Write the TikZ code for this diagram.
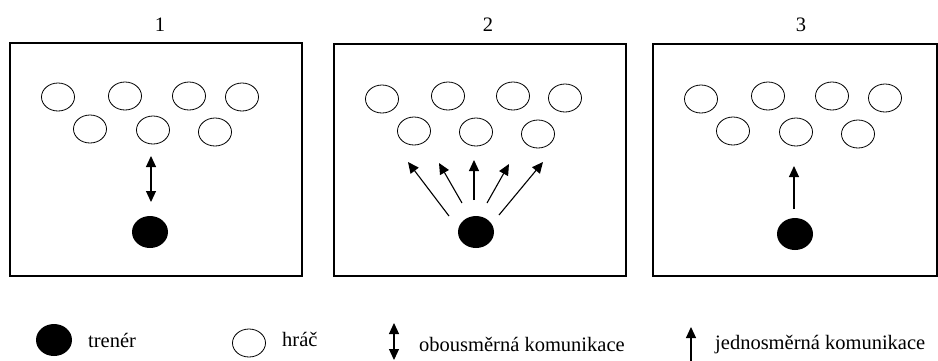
\documentclass[tikz,border=0pt]{standalone}
\usepackage{fontspec}
\setmainfont{Liberation Serif}
\usetikzlibrary{shapes.geometric,arrows.meta}
\begin{document}
\begin{tikzpicture}[x=1pt,y=-1pt,
  player/.style={draw,line width=0.8pt,ellipse,minimum width=33pt,minimum height=28pt,inner sep=0pt},
  coach/.style={fill=black,ellipse,minimum width=36pt,minimum height=32pt,inner sep=0pt},
  tip/.tip={Triangle[length=11pt,width=10pt]},
  comm/.style={line width=1.1pt,-tip},
  both/.style={line width=1.1pt,tip-tip},
  numlbl/.style={font=\fontsize{20.5}{22}\selectfont,anchor=base,inner sep=0pt},
  legtxt/.style={font=\fontsize{20.5}{22}\selectfont,anchor=base west,inner sep=0pt}]
\useasboundingbox (0,0) rectangle (938,360);

% three fields
\draw[line width=1.2pt] (10,43) rectangle (302,276);
\draw[line width=1.2pt] (334,44) rectangle (626,276);
\draw[line width=1.2pt] (653,44) rectangle (937,276);
\node[numlbl] (n1) at (160,31) {1};
\node[numlbl] (n2) at (488,31) {2};
\node[numlbl] (n3) at (801,31) {3};

% field 1: two-way communication
\foreach \x/\y [count=\i] in {58/97,125/96,189/96,242/97,90/129,153/130,215/132}
  \node[player] (a\i) at (\x,\y) {};
\node[coach] (ca) at (150,232) {};
\coordinate (ta) at (151,156);
\coordinate (sa) at (151,202);
\draw[both] (sa) -- (ta);

% field 2: one-way communication to many
\foreach \x/\y [count=\i] in {382/99,448/96,513/96,565/98,414/131,476/132,538/134}
  \node[player] (b\i) at (\x,\y) {};
\node[coach] (cb) at (476,232) {};
\foreach \sx/\sy/\tx/\ty [count=\i] in {449/216/408/162,462/203/439/163,474/200/474/160,487/203/509/164,499/215/543/162}{
  \coordinate (bs\i) at (\sx,\sy);
  \coordinate (bt\i) at (\tx,\ty);
  \draw[comm] (bs\i) -- (bt\i);
}

% field 3: one-way communication
\foreach \x/\y [count=\i] in {701/99,768/96,832/96,885/98,733/131,796/132,858/134}
  \node[player] (c\i) at (\x,\y) {};
\node[coach] (cc) at (795,234) {};
\coordinate (cs) at (794,209);
\coordinate (ct) at (794,166);
\draw[comm] (cs) -- (ct);

% legend
\node[coach] (lcoach) at (54,340) {};
\node[legtxt] (lt1) at (88,347) {trenér};
\node[player] (lplayer) at (249,343) {};
\node[legtxt] (lt2) at (282,346) {hráč};
\coordinate (ld1) at (394,323);
\coordinate (ld2) at (394,360);
\draw[both] (ld2) -- (ld1);
\node[legtxt] (lt3) at (419,351) {obousměrná komunikace};
\coordinate (lu1) at (691,327);
\coordinate (lu2) at (691,361);
\draw[comm] (lu2) -- (lu1);
\node[legtxt] (lt4) at (715,349) {jednosměrná komunikace};
\end{tikzpicture}
\end{document}
